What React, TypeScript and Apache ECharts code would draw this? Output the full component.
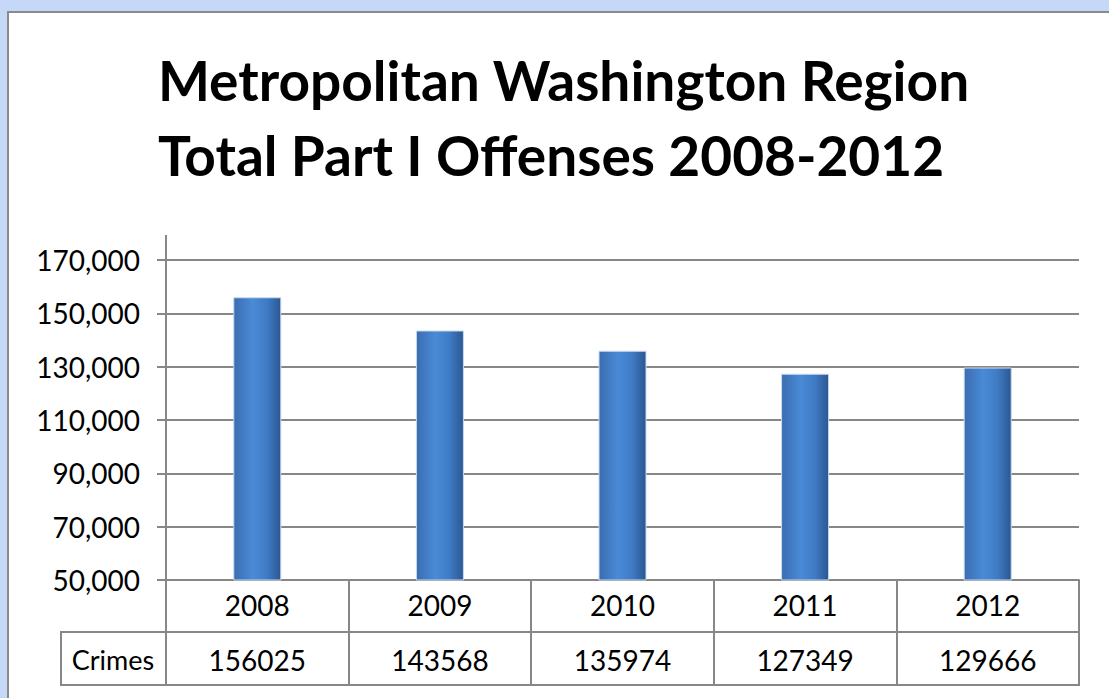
import React, { useEffect, useRef } from "react";
import * as echarts from "echarts";

const years = ["2008", "2009", "2010", "2011", "2012"];
const crimes = [156025, 143568, 135974, 127349, 129666];
const rowLabel = "Crimes";
const titleLines = ["Metropolitan Washington Region", "Total Part I Offenses 2008-2012"];
const yMin = 50000;
const yMax = 170000;
const yStep = 20000;

const GRAY = "#878787";
const FONT = "Lato";

export default function App() {
  const ref = useRef<HTMLDivElement>(null);
  useEffect(() => {
    if (!ref.current) return;
    const chart = echarts.init(ref.current, null, { renderer: "svg" });
    chart.setOption({
      animation: false,
      backgroundColor: "transparent",
      title: {
        text: titleLines.join("\n"),
        left: 153,
        top: 37,
        textAlign: "left",
        textStyle: {
          fontFamily: FONT,
          fontWeight: "bold",
          fontSize: 55,
          lineHeight: 75,
          color: "#000",
          align: "center",
          width: 806,
        },
      },
      grid: [
        { left: 166, right: 30, top: 260, bottom: 118 },
        { left: 166, right: 30, top: 632, height: 53, show: true, borderColor: GRAY, borderWidth: 2 },
      ],
      xAxis: [
        {
          type: "category",
          gridIndex: 0,
          data: years,
          axisLine: { show: true, lineStyle: { color: GRAY, width: 2 } },
          axisTick: { show: true, length: 52, interval: 0, lineStyle: { color: GRAY, width: 2 } },
          axisLabel: { fontFamily: FONT, fontSize: 28, color: "#000", margin: 11 },
        },
        {
          type: "category",
          gridIndex: 1,
          data: crimes.map((v) => String(v)),
          axisLine: { show: true, lineStyle: { color: GRAY, width: 2 } },
          axisTick: { show: true, inside: true, length: 53, interval: 0, lineStyle: { color: GRAY, width: 2 } },
          axisLabel: { inside: true, fontFamily: FONT, fontSize: 28, color: "#000", margin: 11 },
        },
      ],
      yAxis: [
        {
          type: "value",
          gridIndex: 0,
          min: yMin,
          max: yMax,
          interval: yStep,
          axisLine: { show: true, lineStyle: { color: GRAY, width: 2 } },
          axisTick: { show: true, length: 9, lineStyle: { color: GRAY, width: 2 } },
          splitLine: { show: true, lineStyle: { color: GRAY, width: 2 } },
          axisLabel: {
            fontFamily: FONT,
            fontSize: 28,
            color: "#000",
            margin: 26,
            formatter: (v: number) => v.toLocaleString("en-US"),
          },
        },
        { type: "value", gridIndex: 1, show: false },
      ],
      series: [
        {
          type: "bar",
          xAxisIndex: 0,
          yAxisIndex: 0,
          data: crimes,
          barWidth: 48,
          itemStyle: {
            color: new echarts.graphic.LinearGradient(0, 0, 1, 0, [
              { offset: 0, color: "#3a6db0" },
              { offset: 0.4, color: "#4a8ad6" },
              { offset: 0.7, color: "#3f7cc6" },
              { offset: 1, color: "#2b5792" },
            ]),
            borderColor: "#c9d9ee",
            borderWidth: 1,
          },
        },
      ],
      graphic: [
        {
          type: "line",
          shape: { x1: 166, y1: 235, x2: 166, y2: 261 },
          style: { stroke: GRAY, lineWidth: 2 },
        },
        {
          type: "rect",
          shape: { x: 61, y: 632, width: 105, height: 53 },
          style: { fill: "transparent", stroke: GRAY, lineWidth: 2 },
        },
        {
          type: "text",
          x: 113,
          y: 659,
          style: {
            text: rowLabel,
            fontFamily: FONT,
            fontSize: 27,
            fill: "#000",
            align: "center",
            verticalAlign: "middle",
          },
        },
      ],
    });
    return () => chart.dispose();
  }, []);

  return (
    <div style={{ position: "fixed", left: 0, top: 0, width: 1109, height: 698, background: "#c5d8f8", overflow: "hidden" }}>
      <div
        style={{
          position: "absolute",
          left: 7,
          top: 11,
          width: 1200,
          height: 800,
          background: "#fff",
          border: "2px solid #8a8a8a",
          boxSizing: "border-box",
        }}
      />
      <div ref={ref} style={{ position: "absolute", left: 0, top: 0, width: 1109, height: 698 }} />
    </div>
  );
}
